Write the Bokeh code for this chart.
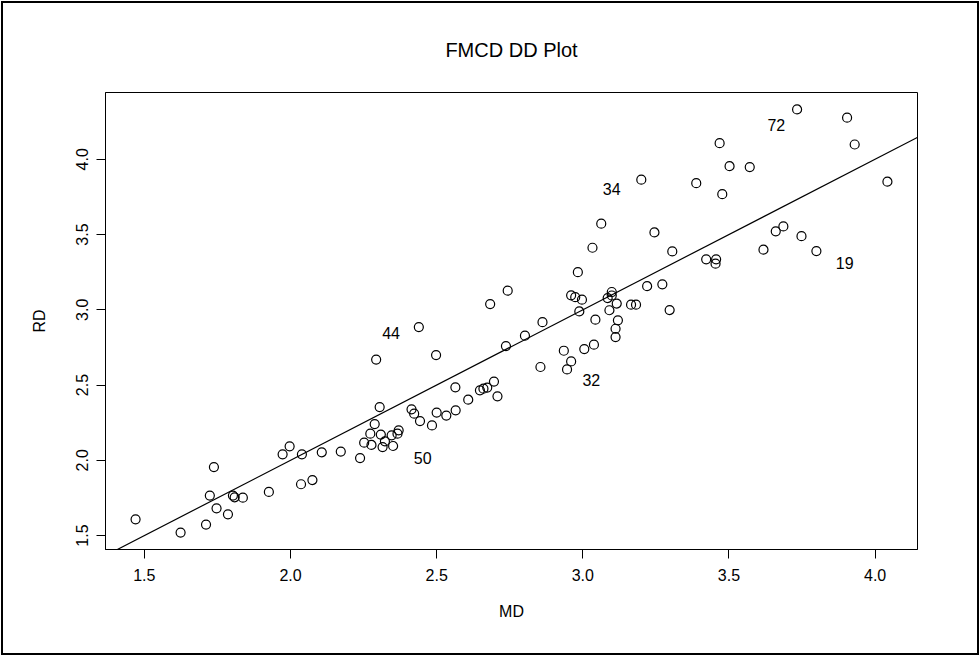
from bokeh.plotting import figure
from bokeh.models import Range1d, Slope, FixedTicker, ColumnDataSource, PrintfTickFormatter
from bokeh.core.properties import value
from bokeh.embed import file_html
from bokeh.resources import INLINE

# ---- data ----
md = [1.470, 1.624, 1.711, 1.747, 1.724, 1.738, 1.786, 1.803, 1.809, 1.837,
      1.926, 1.973, 1.997, 2.036, 2.039, 2.075, 2.107, 2.172, 2.238, 2.252,
      2.277, 2.273, 2.288, 2.293, 2.305, 2.309, 2.315, 2.323, 2.346, 2.370,
      2.366, 2.351, 2.414, 2.423, 2.443, 2.439, 2.484, 2.500, 2.498, 2.533,
      2.565, 2.564, 2.608, 2.648, 2.660, 2.673, 2.696, 2.708, 2.737, 2.802,
      2.862, 2.855, 2.935, 2.960, 2.946, 2.988, 3.005, 3.038, 3.043, 3.091,
      3.120, 3.112, 3.112, 3.063, 3.033, 2.983, 2.960, 2.974, 2.997, 2.743,
      2.683, 3.099, 3.085, 3.099, 3.116, 3.200, 3.165, 3.182, 3.297, 3.733,
      3.904, 3.930, 4.042, 3.468, 3.502, 3.571, 3.388, 3.477, 3.245, 3.306,
      3.660, 3.686, 3.748, 3.618, 3.799, 3.422, 3.456, 3.454, 3.220, 3.272]
rd = [1.608, 1.520, 1.573, 1.681, 1.766, 1.955, 1.641, 1.766, 1.754, 1.752,
      1.790, 2.040, 2.093, 1.841, 2.040, 1.869, 2.053, 2.058, 2.015, 2.117,
      2.102, 2.177, 2.241, 2.669, 2.354, 2.171, 2.088, 2.126, 2.166, 2.199,
      2.177, 2.095, 2.339, 2.310, 2.261, 2.885, 2.232, 2.317, 2.699, 2.297,
      2.332, 2.485, 2.403, 2.465, 2.476, 2.483, 2.523, 2.425, 2.759, 2.828,
      2.918, 2.620, 2.728, 2.657, 2.604, 2.989, 2.739, 2.768, 2.934, 2.997,
      2.930, 2.874, 2.819, 3.572, 3.412, 3.250, 3.096, 3.084, 3.067, 3.127,
      3.038, 3.118, 3.078, 3.095, 3.041, 3.864, 3.034, 3.034, 2.998, 4.331,
      4.276, 4.098, 3.851, 4.107, 3.954, 3.948, 3.841, 3.768, 3.514, 3.388,
      3.521, 3.554, 3.489, 3.399, 3.390, 3.335, 3.335, 3.306, 3.157, 3.169]

lab_text = ["44", "50", "32", "34", "72", "19"]
lab_x = [2.344, 2.452, 3.029, 3.099, 3.662, 3.896]
lab_y = [2.846, 2.015, 2.531, 3.800, 4.229, 3.310]

x_ticks = [1.5, 2.0, 2.5, 3.0, 3.5, 4.0]
y_ticks = [1.5, 2.0, 2.5, 3.0, 3.5, 4.0]

title_text = "FMCD DD Plot"
x_label = "MD"
y_label = "RD"

# R-style 4% range extension
def ext(v):
    lo, hi = min(v), max(v)
    d = (hi - lo) * 0.04
    return lo - d, hi + d

FONT = "Liberation Sans"
W, H = 980, 656

xr = ext(md)
yr = ext(rd)

p = figure(width=W, height=H, output_backend="svg", toolbar_location=None,
           x_range=Range1d(*xr), y_range=Range1d(*yr),
           min_border_left=105, min_border_right=63,
           min_border_top=92, min_border_bottom=107)

p.background_fill_color = "white"
p.border_fill_color = None          # let the page (white) and the outer box show
p.outline_line_color = "black"
p.outline_line_width = 1
p.grid.visible = False
# outer device border (R figure box)
p.styles = {"outline": "2px solid black", "outline-offset": "-3px",
            "background-color": "white"}

p.title.text = title_text
p.title.align = "center"
p.title.text_font = FONT
p.title.text_font_size = "20px"
p.title.text_font_style = "normal"
p.title.text_color = "black"
p.title.standoff = 63

for ax, ticks in ((p.xaxis[0], x_ticks), (p.yaxis[0], y_ticks)):
    ax.ticker = FixedTicker(ticks=ticks)
    ax.formatter = PrintfTickFormatter(format="%.1f")
    ax.minor_tick_line_color = None
    ax.major_tick_in = 0
    ax.major_tick_out = 9
    ax.major_tick_line_color = "black"
    ax.axis_line_color = "black"
    ax.major_label_text_font = FONT
    ax.major_label_text_font_size = "16px"
    ax.major_label_text_color = "black"
    ax.axis_label_text_font = FONT
    ax.axis_label_text_font_size = "16px"
    ax.axis_label_text_font_style = "normal"
    ax.axis_label_text_color = "black"

p.xaxis[0].axis_label = x_label
p.yaxis[0].axis_label = y_label
p.xaxis[0].major_label_standoff = 10
p.xaxis[0].axis_label_standoff = 19
p.yaxis[0].major_label_orientation = "vertical"
p.yaxis[0].major_label_standoff = 8
p.yaxis[0].axis_label_standoff = 26

# identity reference line
p.add_layout(Slope(gradient=1, y_intercept=0, line_color="black", line_width=1.2))

src = ColumnDataSource(dict(x=md, y=rd))
p.scatter("x", "y", source=src, marker="circle", size=9,
          fill_color=None, line_color="black", line_width=1.2)

lsrc = ColumnDataSource(dict(x=lab_x, y=lab_y, t=lab_text))
p.text("x", "y", text="t", source=lsrc, text_align="center",
       text_baseline="middle", text_font=value(FONT),
       text_font_size="16px", text_color="black")

open("out.html", "w").write(file_html(p, INLINE))
